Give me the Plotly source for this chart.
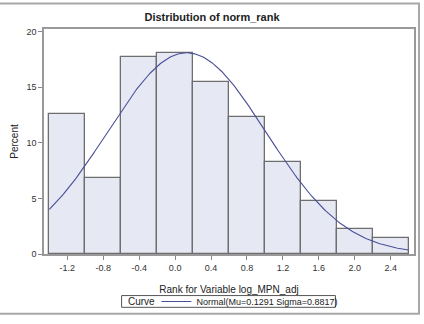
import numpy as np
import plotly.graph_objects as go

# Data
bin_left = [-1.4, -1.0, -0.6, -0.2, 0.2, 0.6, 1.0, 1.4, 1.8, 2.2]
bin_width = 0.4
percent = [12.6, 6.8, 17.75, 18.1, 15.45, 12.35, 8.3, 4.8, 2.25, 1.4]
x_ticks = [-1.2, -0.8, -0.4, 0.0, 0.4, 0.8, 1.2, 1.6, 2.0, 2.4]
x_tick_labels = ["-1.2", "-0.8", "-0.4", "0.0", "0.4", "0.8", "1.2", "1.6", "2.0", "2.4"]
y_ticks = [0, 5, 10, 15, 20]
mu = 0.1291
sigma = 0.8817

centers = [b + bin_width / 2 for b in bin_left]

# fitted normal curve (as percent per bin width)
xc = np.linspace(-1.4, 2.6, 300)
yc = 100 * bin_width * np.exp(-0.5 * ((xc - mu) / sigma) ** 2) / (sigma * np.sqrt(2 * np.pi))

fig = go.Figure()
fig.add_trace(go.Bar(
    x=centers, y=percent, width=bin_width,
    marker=dict(color="#e6e9f3", line=dict(color="#6e6e6e", width=1.3)),
    showlegend=False, hoverinfo="x+y",
))
fig.add_trace(go.Scatter(
    x=xc, y=yc, mode="lines",
    line=dict(color="#4a4f9a", width=1.1),
    name="Normal(Mu=0.1291 Sigma=0.8817)",
))

W, H = 424, 324
L, R, T, B = 44, 416, 29, 259
pw, ph = R - L, B - T

def px(x):
    return (x - L) / pw

def py(y):
    return (B - y) / ph

fig.update_layout(
    width=W, height=H,
    margin=dict(l=L, r=W - R, t=T, b=H - B),
    paper_bgcolor="white", plot_bgcolor="white",
    font=dict(family="Liberation Sans, Arial, sans-serif", size=9, color="#333333"),
    title=dict(text="<b>Distribution of norm_rank</b>", x=px(230), xanchor="center",
               y=1 - 17 / H, yanchor="middle", font=dict(size=11, color="#222222")),
    bargap=0,
    xaxis=dict(range=[-1.46, 2.66], tickvals=x_ticks, ticktext=x_tick_labels,
               ticks="outside", ticklen=4, tickcolor="#888888",
               showline=True, linecolor="#999999", linewidth=1.5, mirror=True,
               showgrid=False, zeroline=False,
               title=dict(text="Rank for Variable log_MPN_adj", standoff=14,
                          font=dict(size=10, color="#222222"))),
    yaxis=dict(range=[0, 20.24], tickvals=y_ticks,
               ticks="outside", ticklen=4, tickcolor="#888888",
               showline=True, linecolor="#999999", linewidth=1.5, mirror=True,
               showgrid=False, zeroline=False,
               title=dict(text="Percent", standoff=6,
                          font=dict(size=10, color="#222222"))),
    legend=dict(orientation="h", x=px(157), xanchor="left", y=py(307.5), yanchor="middle",
                borderwidth=0, bgcolor="rgba(0,0,0,0)",
                font=dict(size=9, color="#222222")),
    shapes=[dict(type="rect", xref="paper", yref="paper",
                 x0=px(-2), x1=px(421), y0=py(320), y1=py(3),
                 line=dict(color="#a8a8a8", width=2), layer="below"),
            dict(type="rect", xref="paper", yref="paper",
                 x0=px(122), x1=px(337), y0=py(313.5), y1=py(301.5),
                 line=dict(color="#555555", width=1), fillcolor="white", layer="below")],
    annotations=[dict(text="Curve", xref="paper", yref="paper", x=px(126), y=py(307.5),
                      xanchor="left", yanchor="middle", showarrow=False,
                      font=dict(size=10, color="#222222"))],
)

fig.write_html("out.html")
